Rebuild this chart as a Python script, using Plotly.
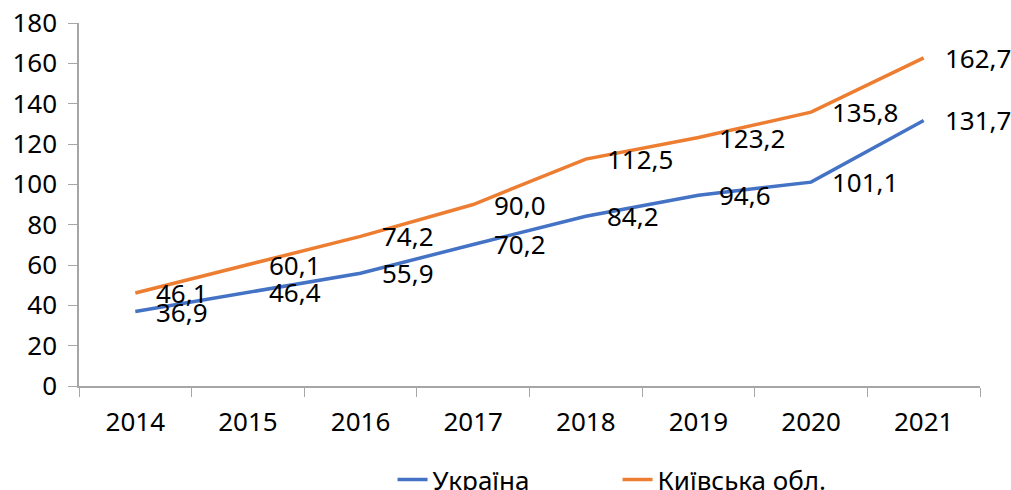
import plotly.graph_objects as go

years = ["2014", "2015", "2016", "2017", "2018", "2019", "2020", "2021"]
ukraine = [36.9, 46.4, 55.9, 70.2, 84.2, 94.6, 101.1, 131.7]
kyiv = [46.1, 60.1, 74.2, 90.0, 112.5, 123.2, 135.8, 162.7]
y_ticks = [0, 20, 40, 60, 80, 100, 120, 140, 160, 180]

FONT = "Noto Sans"
FS = 26
BLUE = "#4472C4"
ORANGE = "#ED7D31"

fig = go.Figure()
fig.add_trace(go.Scatter(x=years, y=ukraine, mode="lines", name="Україна",
                         line=dict(color=BLUE, width=3.5)))
fig.add_trace(go.Scatter(x=years, y=kyiv, mode="lines", name="Київська обл.",
                         line=dict(color=ORANGE, width=3.5)))

def fmt(v):
    return f"{v:.1f}".replace(".", ",")

for series in (ukraine, kyiv):
    for i, v in enumerate(series):
        fig.add_annotation(x=i, y=v, text=fmt(v), showarrow=False,
                           xanchor="left", yanchor="middle", xshift=19,
                           font=dict(family=FONT, size=FS, color="black"))

fig.update_layout(
    width=1011, height=490,
    margin=dict(l=79, r=31, t=23, b=103.5, autoexpand=False),
    paper_bgcolor="white", plot_bgcolor="white",
    font=dict(family=FONT, size=FS, color="black"),
    showlegend=True,
    legend=dict(orientation="h", x=0.348, xanchor="left", y=-0.258, yanchor="middle",
                font=dict(family=FONT, size=FS), entrywidth=180,
                bgcolor="rgba(0,0,0,0)"),
    xaxis=dict(type="category", tickson="boundaries", ticks="outside", ticklen=9,
               tickcolor="#A6A6A6", showline=True, linecolor="#A6A6A6", linewidth=1.5,
               showgrid=False, zeroline=False, range=[-0.5, 7.5], automargin=False,
               ticklabelstandoff=12,
               tickfont=dict(family=FONT, size=FS)),
    yaxis=dict(range=[0, 180], tickvals=y_ticks, ticks="outside", ticklen=9,
               tickcolor="#A6A6A6", showline=True, linecolor="#A6A6A6", linewidth=1.5,
               showgrid=False, zeroline=False, ticklabelstandoff=6, automargin=False,
               tickfont=dict(family=FONT, size=FS)),
)

fig.write_html("out.html", config={"displayModeBar": False},
               post_script="document.body.style.margin='0';document.body.style.overflow='hidden';")
